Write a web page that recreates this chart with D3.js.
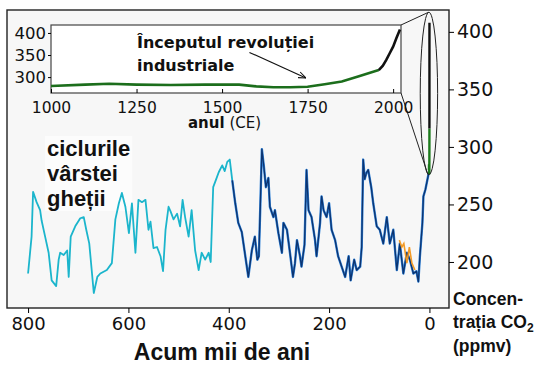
<!DOCTYPE html>
<html>
<head>
<meta charset="utf-8">
<script src="https://cdn.jsdelivr.net/npm/d3@7"></script>
<style>
  body { margin: 0; background: #fff; }
  svg text { fill: #111; }
  .tick text { font-family: "DejaVu Sans", sans-serif; fill: #111; }
  .bold { font-family: "Liberation Sans", Arial, sans-serif; font-weight: bold; }
</style>
</head>
<body>
<div id="chart"></div>
<script>
// ice core CO2: thousand years before present / ppmv
const domeKyr = [800, 793, 790, 783, 776, 773, 766, 759, 753, 744, 739, 736, 729, 722, 719, 715, 706, 696, 689, 684, 678, 669, 662, 656, 643, 633, 626, 619, 613, 606, 599, 593, 586, 580, 573, 566, 560, 556, 550, 543, 536, 531, 526, 520, 516, 510, 503, 497, 492, 487, 480, 474, 467, 460, 454, 447, 440, 436, 431, 425, 420, 413, 408, 403, 398, 393];
const domePpm = [190, 222, 261, 252, 245, 236, 222, 208, 184, 179, 202, 208, 206, 210, 187, 222, 231, 238, 239, 228, 216, 173, 187, 190, 193, 199, 237, 251, 260, 248, 225, 251, 208, 254, 252, 254, 228, 235, 212, 213, 205, 192, 228, 248, 244, 237, 242, 231, 254, 239, 222, 245, 210, 193, 208, 202, 208, 200, 265, 272, 278, 284, 279, 287, 289, 271];

const vostokKyr = [393, 387, 381, 374, 367, 361, 354, 348, 343, 340, 337, 334, 330, 326, 321, 318, 311, 308, 301, 294, 291, 284, 278, 272, 268, 264, 258, 255, 249, 245, 241, 235, 228, 225, 218, 215, 211, 205, 200, 195, 188, 182, 175, 168, 161, 157, 150, 145, 138, 135, 132, 129, 126, 122, 116, 112, 105, 99, 92, 85, 79, 72, 65, 59, 52, 45, 39, 32, 26, 22, 19, 14, 12, 8, 2, 0];
const vostokPpm = [271, 251, 234, 226, 205, 187, 210, 222, 202, 205, 250, 298, 283, 265, 273, 248, 239, 245, 225, 208, 234, 228, 208, 187, 199, 219, 205, 196, 215, 280, 245, 239, 219, 205, 234, 257, 245, 239, 251, 228, 219, 205, 196, 187, 205, 184, 202, 193, 196, 213, 289, 272, 277, 280, 265, 251, 231, 228, 216, 239, 216, 228, 193, 216, 190, 208, 202, 190, 192, 183, 205, 234, 257, 263, 276, 278];

const taylorKyr = [60, 55, 51, 45, 40, 35, 29];
const taylorPpm = [219, 213, 216, 199, 213, 199, 193];

// last millennium: year CE / ppmv
const iceYears = [1000, 1100, 1170, 1250, 1350, 1450, 1550, 1600, 1650, 1700, 1750, 1800, 1850, 1900, 1958];
const icePpm = [280, 283, 285, 283, 282, 283, 283, 279, 277, 277, 278, 284, 290, 302, 316];
const airYears = [1958, 1970, 1980, 1990, 2000, 2010, 2020];
const airPpm = [316, 326, 339, 354, 369, 389, 408];

const mainTicksX = [800, 600, 400, 200, 0];
const mainTicksY = [200, 250, 300, 350, 400];
const insetTicksX = [1000, 1250, 1500, 1750, 2000];
const insetTicksY = [300, 350, 400];

const W = 538, H = 371;
const frame = { left: 7, top: 10, right: 449, bottom: 308 };
const inset = { left: 51, top: 25, right: 401, bottom: 93 };

const svg = d3.select('#chart').append('svg')
  .attr('width', W).attr('height', H);

const x = d3.scaleLinear().domain([842, -39]).range([frame.left, frame.right]);
const y = d3.scaleLinear().domain([160, 419]).range([frame.bottom, frame.top]);

svg.append('rect')
  .attr('x', frame.left).attr('y', frame.top)
  .attr('width', frame.right - frame.left).attr('height', frame.bottom - frame.top)
  .attr('fill', '#f7f7f7');

const zip = (a, b) => a.map((d, i) => [d, b[i]]);
const mainLine = d3.line().x(d => x(d[0])).y(d => y(d[1]));

// annotation text with a faint white backdrop
const cycles = svg.append('g').attr('class', 'bold').style('font-size', '22px');
['ciclurile', 'vârstei', 'gheții'].forEach((t, i) => {
  cycles.append('text').attr('x', 47).attr('y', 156 + i * 25).text(t);
});
const bb = cycles.node().getBBox();
cycles.insert('rect', 'text')
  .attr('x', bb.x - 2).attr('y', bb.y)
  .attr('width', bb.width + 4).attr('height', bb.height)
  .attr('fill', '#fcfcfc');

svg.append('path').datum(zip(domeKyr, domePpm))
  .attr('d', mainLine).attr('fill', 'none')
  .attr('stroke', '#1bb5cc').attr('stroke-width', 1.8).attr('stroke-linejoin', 'round');

svg.append('path').datum(zip(vostokKyr, vostokPpm))
  .attr('d', mainLine).attr('fill', 'none')
  .attr('stroke', '#2f80d6').attr('stroke-width', 2.4).attr('stroke-linejoin', 'round');
svg.append('path').datum(zip(vostokKyr, vostokPpm))
  .attr('d', mainLine).attr('fill', 'none')
  .attr('stroke', '#0d3470').attr('stroke-width', 1.3).attr('stroke-linejoin', 'round');

svg.append('path').datum(zip(taylorKyr, taylorPpm))
  .attr('d', mainLine).attr('fill', 'none')
  .attr('stroke', '#f39a25').attr('stroke-width', 1.6);

// modern record squeezed at 0 kyr
const toKyr = yr => (1950 - yr) / 1000;
svg.append('path').datum(zip(iceYears.map(toKyr), icePpm))
  .attr('d', mainLine).attr('fill', 'none')
  .attr('stroke', '#1c7a1c').attr('stroke-width', 2.4);
svg.append('path').datum(zip(airYears.map(toKyr), airPpm))
  .attr('d', mainLine).attr('fill', 'none')
  .attr('stroke', '#111').attr('stroke-width', 2.4);

// zoom lens
const lensTop = y(417), lensBot = y(276);
svg.append('ellipse')
  .attr('cx', x(0) - 0.5).attr('cy', (lensTop + lensBot) / 2)
  .attr('rx', 8.7).attr('ry', (lensBot - lensTop) / 2)
  .attr('fill', 'none').attr('stroke', '#222').attr('stroke-width', 1);
svg.append('line')
  .attr('x1', inset.right).attr('y1', inset.top)
  .attr('x2', x(0) - 1).attr('y2', lensTop)
  .attr('stroke', '#222').attr('stroke-width', 1);
svg.append('line')
  .attr('x1', inset.right).attr('y1', inset.bottom)
  .attr('x2', x(0) - 1.5).attr('y2', lensBot)
  .attr('stroke', '#222').attr('stroke-width', 1);

// frame + axes
svg.append('rect')
  .attr('x', frame.left).attr('y', frame.top)
  .attr('width', frame.right - frame.left).attr('height', frame.bottom - frame.top)
  .attr('fill', 'none').attr('stroke', '#222').attr('stroke-width', 1.4);

const xAxis = svg.append('g')
  .attr('transform', `translate(0, ${frame.bottom})`)
  .call(d3.axisBottom(x).tickValues(mainTicksX).tickSize(5).tickSizeOuter(0).tickPadding(4));
xAxis.select('.domain').remove();
xAxis.selectAll('text').style('font-size', '18px');

const yAxis = svg.append('g')
  .attr('transform', `translate(${frame.right}, 0)`)
  .call(d3.axisRight(y).tickValues(mainTicksY).tickSize(5).tickSizeOuter(0).tickPadding(3));
yAxis.select('.domain').remove();
yAxis.selectAll('text').style('font-size', '19px');

svg.append('text').attr('class', 'bold')
  .attr('x', 222).attr('y', 360).attr('text-anchor', 'middle')
  .style('font-size', '23px').text('Acum mii de ani');

const unit = svg.append('g').attr('class', 'bold').style('font-size', '17.5px');
unit.append('text').attr('x', 453).attr('y', 305).text('Concen-');
const co2 = unit.append('text').attr('x', 453).attr('y', 328);
co2.append('tspan').text('trația CO');
co2.append('tspan').attr('dy', 4).style('font-size', '12px').text('2');
unit.append('text').attr('x', 453).attr('y', 352).text('(ppmv)');

// inset: last millennium
const ix = d3.scaleLinear().domain([1000, 2023]).range([inset.left, inset.right]);
const iy = d3.scaleLinear().domain([264, 418]).range([inset.bottom, inset.top]);
const insetLine = d3.line().x(d => ix(d[0])).y(d => iy(d[1]));

svg.append('rect')
  .attr('x', inset.left).attr('y', inset.top)
  .attr('width', inset.right - inset.left).attr('height', inset.bottom - inset.top)
  .attr('fill', '#fff').attr('stroke', '#444').attr('stroke-width', 1.2);

svg.append('path').datum(zip(iceYears, icePpm))
  .attr('d', insetLine).attr('fill', 'none')
  .attr('stroke', '#1c6e1c').attr('stroke-width', 2.6);
svg.append('path').datum(zip(airYears, airPpm))
  .attr('d', insetLine).attr('fill', 'none')
  .attr('stroke', '#111').attr('stroke-width', 2.6);

const ixAxis = svg.append('g')
  .attr('transform', `translate(0, ${inset.bottom})`)
  .call(d3.axisBottom(ix).tickValues(insetTicksX).tickFormat(d3.format('d'))
    .tickSize(-4).tickSizeOuter(0).tickPadding(9));
ixAxis.select('.domain').remove();
ixAxis.selectAll('text').style('font-size', '15.5px');

const iyAxis = svg.append('g')
  .attr('transform', `translate(${inset.left}, 0)`)
  .call(d3.axisLeft(iy).tickValues(insetTicksY).tickSize(3).tickSizeOuter(0).tickPadding(2));
iyAxis.select('.domain').remove();
iyAxis.selectAll('text').style('font-size', '16.5px');

const anul = svg.append('text').attr('x', 188).attr('y', 128)
  .style('font-family', '"DejaVu Sans", sans-serif').style('font-size', '15px');
anul.append('tspan').style('font-weight', 'bold').text('anul');
anul.append('tspan').text(' (CE)');

const note = svg.append('g')
  .style('font-family', '"DejaVu Sans", sans-serif').style('font-weight', 'bold')
  .style('font-size', '16px');
note.append('text').attr('x', 137).attr('y', 48).text('Începutul revoluției');
note.append('text').attr('x', 137).attr('y', 71).text('industriale');

svg.append('defs').append('marker')
  .attr('id', 'head').attr('viewBox', '0 0 10 10')
  .attr('refX', 10).attr('refY', 5)
  .attr('markerWidth', 7).attr('markerHeight', 7)
  .attr('orient', 'auto')
  .append('path').attr('d', 'M0,1 L10,5 L0,9').attr('fill', 'none')
  .attr('stroke', '#111').attr('stroke-width', 1.4);

svg.append('line')
  .attr('x1', ix(1580)).attr('y1', iy(356))
  .attr('x2', ix(1745)).attr('y2', iy(298))
  .attr('stroke', '#111').attr('stroke-width', 1.1)
  .attr('marker-end', 'url(#head)');
</script>
</body>
</html>
